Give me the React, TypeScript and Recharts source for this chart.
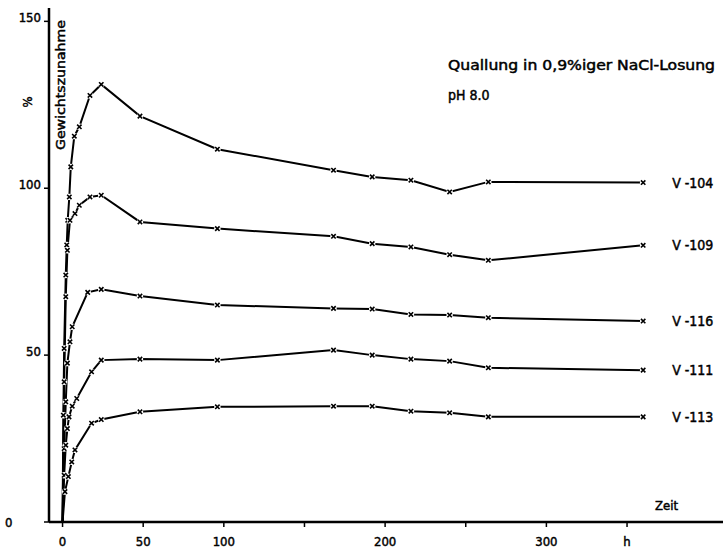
import { LineChart, Line, XAxis, YAxis, LabelList } from 'recharts'

const FONT = '"DejaVu Sans Condensed", "DejaVu Sans", sans-serif'

// Zeit (h) und Gewichtszunahme (%) je Probe
const HOURS_104 = [0, 0.5, 1, 2, 2.6, 3.2, 4.2, 5.1, 7.3, 10.4, 17, 24, 48, 96, 168, 192, 216, 240, 264, 360]
const GAIN_104 = [0, 32, 52, 74, 83, 90.4, 97.4, 106.4, 115.6, 118.4, 127.8, 131.1, 121.6, 111.7, 105.4, 103.4, 102.4, 98.9, 101.9, 101.7]

const HOURS_109 = [0, 1, 2, 3, 4.6, 7.7, 10.4, 17, 24, 48, 96, 168, 192, 216, 240, 264, 360]
const GAIN_109 = [0, 42, 67.5, 81.4, 90.4, 92.4, 94.9, 97.4, 97.9, 89.9, 87.9, 85.6, 83.4, 82.4, 80.1, 78.4, 82.9]

const HOURS_116 = [0, 1, 2, 3, 4.6, 6, 15.6, 24, 48, 96, 168, 192, 216, 240, 264, 360]
const GAIN_116 = [0, 22, 36, 47.6, 54, 58.5, 68.8, 69.7, 67.7, 65, 64, 63.8, 62.2, 62, 61.2, 60.2]

const HOURS_111 = [0, 1, 2, 3, 4, 6, 8.8, 18, 24, 48, 96, 168, 192, 216, 240, 264, 360]
const GAIN_111 = [0, 14, 23, 28, 31.5, 34.7, 37, 45, 48.5, 48.8, 48.5, 51.5, 50, 48.8, 48.2, 46.2, 45.5]

const HOURS_113 = [0, 1.5, 3.6, 5.7, 7.7, 18, 24, 48, 96, 168, 192, 216, 240, 264, 360]
const GAIN_113 = [0, 9.1, 13.6, 18, 21.6, 29.6, 30.7, 33, 34.5, 34.7, 34.7, 33.2, 32.7, 31.5, 31.5]

const SAMPLES = [
  { name: 'V -104', hours: HOURS_104, gain: GAIN_104 },
  { name: 'V -109', hours: HOURS_109, gain: GAIN_109 },
  { name: 'V -116', hours: HOURS_116, gain: GAIN_116 },
  { name: 'V -111', hours: HOURS_111, gain: GAIN_111 },
  { name: 'V -113', hours: HOURS_113, gain: GAIN_113 },
]

const X_TICKS = [0, 50, 100, 150, 200, 250, 300, 350]
const X_LABELS: Record<number, string> = { 0: '0', 50: '50', 100: '100', 200: '200', 300: '300', 350: 'h' }
const Y_TICKS = [0, 50, 100, 150]

// slightly heavier lettering than the plain regular weight
const INK = { fill: '#000', stroke: '#000', strokeWidth: 0.45 }

// one row per measurement, sample name only on the last one (for the end label)
const rowsFor = (hours: number[], gain: number[], name: string) =>
  hours.map((t, i) => ({ t, v: gain[i], tag: i === hours.length - 1 ? name : '' }))

function Cross(props: any) {
  const { cx, cy, payload } = props
  if (cx == null || cy == null || payload?.t === 0) return null
  const s = 2.2
  return (
    <g>
      <circle cx={cx} cy={cy} r={3.2} fill="#fff" />
      <path
        d={`M${cx - s},${cy - s}L${cx + s},${cy + s}M${cx - s},${cy + s}L${cx + s},${cy - s}`}
        stroke="#000"
        strokeWidth={1.6}
      />
    </g>
  )
}

function EndTag(props: any) {
  const { x, y, value } = props
  if (!value) return null
  return (
    <text x={x + 29} y={y + 5} fontFamily={FONT} fontSize={14} {...INK}>
      {value}
    </text>
  )
}

function XTick(props: any) {
  const { x, payload } = props
  const label = X_LABELS[payload.value]
  if (!label) return null
  return (
    <text x={x} y={546} textAnchor="middle" fontFamily={FONT} fontSize={13} {...INK}>
      {label}
    </text>
  )
}

function YTick(props: any) {
  const { y, payload } = props
  if (payload.value === 0) {
    return (
      <text x={5} y={y + 5} fontFamily={FONT} fontSize={13} {...INK}>0</text>
    )
  }
  return (
    <text x={41} y={y + 1} textAnchor="end" fontFamily={FONT} fontSize={13} {...INK}>
      {payload.value}
    </text>
  )
}

export default function App() {
  return (
    <div style={{ position: 'relative', width: 723, height: 553, background: '#fff' }}>
      <style>{'body{margin:0;background:#fff}'}</style>
      <LineChart width={723} height={553} margin={{ top: 8, right: 0, bottom: 0, left: 0 }}>
        <XAxis
          type="number"
          dataKey="t"
          domain={[-8.4, 409.5]}
          ticks={X_TICKS}
          allowDataOverflow
          height={31}
          axisLine={{ stroke: '#000', strokeWidth: 2.5 }}
          tickLine={{ stroke: '#000', strokeWidth: 1.5 }}
          tickSize={5}
          tick={<XTick />}
        />
        <YAxis
          type="number"
          dataKey="v"
          domain={[0, 154]}
          ticks={Y_TICKS}
          allowDataOverflow
          width={49}
          axisLine={{ stroke: '#000', strokeWidth: 2.5 }}
          tickLine={{ stroke: '#000', strokeWidth: 1.5 }}
          tickSize={5}
          tick={<YTick />}
        />
        {SAMPLES.map(s => (
          <Line
            key={s.name}
            data={rowsFor(s.hours, s.gain, s.name)}
            dataKey="v"
            type="linear"
            stroke="#000"
            strokeWidth={2}
            dot={<Cross />}
            activeDot={false}
            isAnimationActive={false}
          >
            <LabelList dataKey="tag" content={<EndTag />} />
          </Line>
        ))}
      </LineChart>
      <svg width={723} height={553} style={{ position: 'absolute', left: 0, top: 0, pointerEvents: 'none' }}>
        <g fontFamily={FONT} {...INK}>
          <text x={448} y={70} fontSize={14} textLength={267} lengthAdjust="spacingAndGlyphs">
            Quallung in 0,9%iger NaCl-Losung
          </text>
          <text x={448} y={100} fontSize={14}>pH 8.0</text>
          <text x={655} y={510} fontSize={13}>Zeit</text>
          <text transform="translate(65,150) rotate(-90)" fontSize={13} textLength={130} lengthAdjust="spacingAndGlyphs">
            Gewichtszunahme
          </text>
          <text transform="translate(32,102) rotate(-90)" fontSize={13} textAnchor="middle">%</text>
        </g>
      </svg>
    </div>
  )
}
